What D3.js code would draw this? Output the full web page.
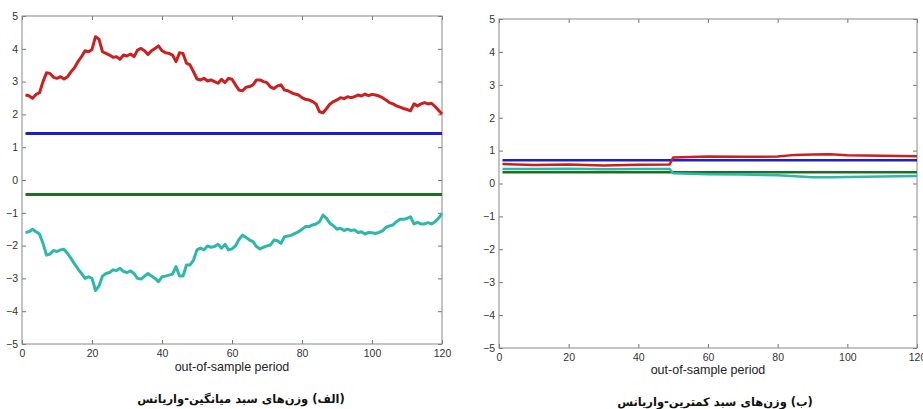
<!DOCTYPE html>
<html>
<head>
<meta charset="utf-8">
<script src="https://cdn.jsdelivr.net/npm/d3@7"></script>
<style>
  body { margin: 0; background: #fff; }
  svg { display: block; }
</style>
</head>
<body>
<div id="chart"></div>
<script>
// periods and tick labels
const periods = d3.range(1, 121);
const xTicks = [0, 20, 40, 60, 80, 100, 120];
const yTicks = [-5, -4, -3, -2, -1, 0, 1, 2, 3, 4, 5];

// panel (a): mean-variance weights
const mvRed = [2.59,2.57,2.49,2.61,2.66,3.00,3.27,3.25,3.13,3.10,3.15,3.08,3.15,3.30,3.42,3.61,3.76,3.94,3.91,3.98,
  4.37,4.29,3.91,3.86,3.81,3.74,3.76,3.68,3.81,3.78,3.84,3.76,3.96,4.01,3.94,3.83,3.94,4.01,4.09,3.94,
  3.88,3.86,3.81,3.61,3.88,3.86,3.56,3.51,3.30,3.08,3.05,3.10,3.02,3.05,3.00,2.95,3.07,2.97,3.10,3.07,
  2.90,2.74,2.72,2.83,2.85,2.90,3.05,3.05,3.00,2.97,2.83,2.79,2.87,2.90,2.74,2.72,2.66,2.62,2.59,2.51,
  2.46,2.44,2.39,2.32,2.08,2.05,2.18,2.32,2.39,2.44,2.51,2.48,2.54,2.51,2.54,2.59,2.56,2.62,2.57,2.61,
  2.59,2.56,2.51,2.44,2.36,2.32,2.26,2.22,2.18,2.15,2.11,2.32,2.26,2.32,2.36,2.32,2.34,2.24,2.13,2.01];
const mvCyan = [-1.60,-1.58,-1.50,-1.58,-1.65,-1.93,-2.29,-2.26,-2.15,-2.18,-2.13,-2.11,-2.24,-2.39,-2.56,-2.71,-2.85,-3.00,-2.95,-3.00,
  -3.37,-3.23,-2.93,-2.85,-2.82,-2.74,-2.76,-2.69,-2.79,-2.82,-2.77,-2.85,-3.00,-3.02,-2.93,-2.85,-2.93,-3.00,-3.10,-2.95,
  -2.93,-2.90,-2.87,-2.64,-2.93,-2.93,-2.59,-2.59,-2.44,-2.13,-2.08,-2.13,-2.01,-2.05,-2.03,-1.96,-2.08,-1.96,-2.13,-2.10,
  -2.01,-1.81,-1.68,-1.75,-1.83,-1.88,-2.03,-2.10,-2.05,-2.01,-1.98,-1.83,-1.85,-1.93,-1.73,-1.71,-1.68,-1.63,-1.58,-1.50,
  -1.42,-1.42,-1.37,-1.34,-1.27,-1.07,-1.17,-1.32,-1.40,-1.50,-1.47,-1.54,-1.50,-1.54,-1.52,-1.60,-1.58,-1.65,-1.60,-1.61,
  -1.63,-1.60,-1.55,-1.44,-1.40,-1.37,-1.27,-1.20,-1.20,-1.17,-1.12,-1.34,-1.29,-1.34,-1.34,-1.30,-1.34,-1.27,-1.17,-1.02];
const mvBlue = 1.42;
const mvGreen = -0.44;

// panel (b): minimum-variance weights (read at sample periods)
const minPeriods = [1, 10, 20, 30, 40, 49, 50, 60, 70, 80, 85, 90, 95, 100, 110, 120];
const minRed   = [0.59, 0.56, 0.58, 0.55, 0.57, 0.58, 0.79, 0.82, 0.81, 0.82, 0.87, 0.88, 0.89, 0.86, 0.84, 0.83];
const minCyan  = [0.44, 0.44, 0.45, 0.43, 0.44, 0.44, 0.31, 0.28, 0.27, 0.25, 0.22, 0.19, 0.19, 0.20, 0.21, 0.23];
const minBlue = 0.71;
const minGreen = 0.34;

const captions = ["(الف) وزن‌های سبد میانگین-واریانس", "(ب) وزن‌های سبد کمترین-واریانس"];
const xTitle = "out-of-sample period";

const colors = { red: "#cc1f1f", blue: "#1f1fc8", green: "#1e701e", cyan: "#2db8aa" };

const width = 923, height = 409;
const svg = d3.select("#chart").append("svg")
  .attr("width", width).attr("height", height);

function drawPanel(box, series, flats, lw, caption, xTitleY, captionY) {
  const x = d3.scaleLinear().domain([0, 120]).range([box.left, box.right]);
  const y = d3.scaleLinear().domain([-5, 5]).range([box.bottom, box.top]);
  const g = svg.append("g");

  // axes, ticks pointing inward on all four sides
  const styleAxis = sel => {
    sel.select(".domain").remove();
    sel.selectAll("line").attr("stroke", "#777");
    sel.selectAll("text").attr("fill", "#333").attr("font-size", "10.5px")
      .attr("font-family", "Liberation Sans, Arial, sans-serif");
  };
  g.append("g").attr("transform", `translate(0,${box.bottom})`)
    .call(d3.axisBottom(x).tickValues(xTicks).tickSize(-4).tickPadding(6)).call(styleAxis);
  g.append("g").attr("transform", `translate(0,${box.top})`)
    .call(d3.axisTop(x).tickValues(xTicks).tickSize(-4).tickFormat("")).call(styleAxis);
  g.append("g").attr("transform", `translate(${box.left},0)`)
    .call(d3.axisLeft(y).tickValues(yTicks).tickSize(-4).tickPadding(4)).call(styleAxis);
  g.append("g").attr("transform", `translate(${box.right},0)`)
    .call(d3.axisRight(y).tickValues(yTicks).tickSize(-4).tickFormat("")).call(styleAxis);

  g.append("rect")
    .attr("x", box.left).attr("y", box.top)
    .attr("width", box.right - box.left).attr("height", box.bottom - box.top)
    .attr("fill", "none").attr("stroke", "#888").attr("stroke-width", 1);

  const line = d3.line().x(d => x(d[0])).y(d => y(d[1]));

  flats.forEach(f => {
    g.append("path")
      .datum([[f.from, f.value], [120, f.value]])
      .attr("d", line).attr("fill", "none")
      .attr("stroke", f.color).attr("stroke-width", lw);
  });
  series.forEach(s => {
    g.append("path")
      .datum(s.xs.map((p, i) => [p, s.values[i]]))
      .attr("d", line).attr("fill", "none")
      .attr("stroke", s.color).attr("stroke-width", lw)
      .attr("stroke-linejoin", "round");
  });

  g.append("text")
    .attr("x", (box.left + box.right) / 2).attr("y", xTitleY)
    .attr("text-anchor", "middle")
    .attr("font-family", "Liberation Sans, Arial, sans-serif")
    .attr("font-size", "12.5px").attr("fill", "#222")
    .text(xTitle);

  g.append("text")
    .attr("x", caption.x).attr("y", captionY)
    .attr("text-anchor", "middle")
    .attr("direction", "rtl")
    .attr("font-family", "DejaVu Sans, sans-serif")
    .attr("font-weight", "bold")
    .attr("font-size", "11.5px").attr("fill", "#111")
    .text(caption.text);
}

drawPanel(
  { left: 22, right: 442, top: 16, bottom: 344 },
  [
    { xs: periods, values: mvRed, color: colors.red },
    { xs: periods, values: mvCyan, color: colors.cyan }
  ],
  [
    { from: 1, value: mvBlue, color: colors.blue },
    { from: 1, value: mvGreen, color: colors.green }
  ],
  3, { text: captions[0], x: 241 }, 371, 403
);

drawPanel(
  { left: 499, right: 917, top: 19, bottom: 348 },
  [
    { xs: minPeriods, values: minCyan, color: colors.cyan },
    { xs: minPeriods, values: minRed, color: colors.red }
  ],
  [
    { from: 1, value: minGreen, color: colors.green },
    { from: 1, value: minBlue, color: colors.blue }
  ],
  2.5, { text: captions[1], x: 715 }, 374, 406
);
</script>
</body>
</html>
